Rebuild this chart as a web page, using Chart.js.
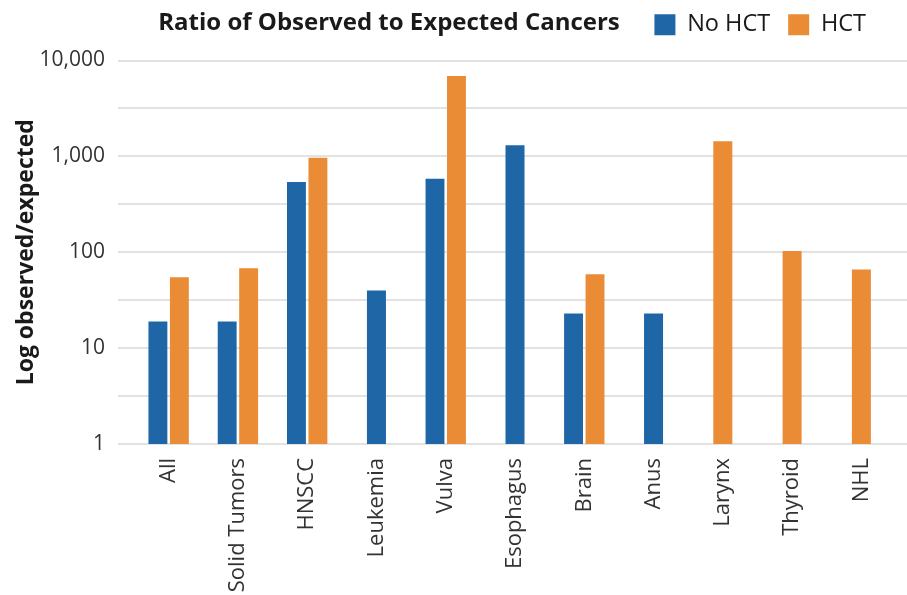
<!DOCTYPE html>
<html>
<head>
<meta charset="utf-8">
<script src="https://cdn.jsdelivr.net/npm/chart.js@4.4.1/dist/chart.umd.min.js"></script>
<style>
    html, body { margin: 0; padding: 0; background: #fff; }
    #wrap { position: relative; width: 907px; height: 595px; }
</style>
</head>
<body>
<div id="wrap"><canvas id="chartRatio"></canvas></div>
<script>
// Values
const categories = ['All', 'Solid Tumors', 'HNSCC', 'Leukemia', 'Vulva', 'Esophagus', 'Brain', 'Anus', 'Larynx', 'Thyroid', 'NHL'];
const noHctValues = [19, 19, 540, 40, 585, 1310, 23, 23, null, null, null];
const hctValues = [55, 68, 970, null, 6900, null, 59, null, 1440, 103, 66];
const majorTicks = [1, 10, 100, 1000, 10000];
const minorTicks = [3.162, 31.62, 316.2, 3162];
const chartTitle = 'Ratio of Observed to Expected Cancers';

Chart.defaults.font.family = '"Open Sans", sans-serif';

// Gridlines run a bit past the plot on both sides, so draw them here
const gridPlugin = {
    id: 'extendedGrid',
    beforeDatasetsDraw(chart) {
        const y = chart.scales.y;
        const ctx = chart.ctx;
        ctx.save();
        ctx.strokeStyle = '#d9d9d9';
        ctx.lineWidth = 1.5;
        majorTicks.concat(minorTicks).forEach(function(v) {
            const py = Math.round(y.getPixelForValue(v));
            ctx.beginPath();
            ctx.moveTo(chart.chartArea.left - 16, py);
            ctx.lineTo(chart.width, py);
            ctx.stroke();
        });
        ctx.restore();
    }
};

// Legend: a bit more room below it, and nudged up / left
const legendSpacing = {
    id: 'legendSpacing',
    beforeInit(chart) {
        const originalFit = chart.legend.fit;
        chart.legend.fit = function() {
            originalFit.bind(chart.legend)();
            this.height += 9;
        };
    },
    afterLayout(chart) {
        chart.legend.top -= 5;
        chart.legend.right -= 12;
    }
};

// Title sits on the same row as the legend
const titlePlugin = {
    id: 'inlineTitle',
    afterDraw(chart) {
        const ctx = chart.ctx;
        ctx.save();
        ctx.font = 'bold 24px "Open Sans"';
        ctx.fillStyle = '#1a1a1a';
        ctx.textAlign = 'center';
        ctx.textBaseline = 'middle';
        ctx.fillText(chartTitle, 389, 23);
        ctx.restore();
    }
};

const ctxRatio = document.getElementById('chartRatio').getContext('2d');
new Chart(ctxRatio, {
    type: 'bar',
    data: {
        labels: categories,
        datasets: [{
            label: 'No HCT',
            data: noHctValues,
            backgroundColor: '#1f66a6'
        }, {
            label: 'HCT',
            data: hctValues,
            backgroundColor: '#ea8b36'
        }]
    },
    options: {
        responsive: true,
        maintainAspectRatio: false,
        animation: false,
        skipNull: true,
        categoryPercentage: 0.62,
        barPercentage: 0.88,
        maxBarThickness: 19,
        layout: { padding: { top: 0, right: 11 } },
        plugins: {
            legend: {
                position: 'top',
                align: 'end',
                labels: {
                    boxWidth: 21,
                    boxHeight: 21,
                    padding: 18,
                    color: '#1a1a1a',
                    font: { size: 23.5 }
                }
            },
            tooltip: { enabled: false }
        },
        scales: {
            x: {
                grid: { display: false, drawTicks: false },
                border: { display: false },
                ticks: {
                    autoSkip: false,
                    minRotation: 90,
                    maxRotation: 90,
                    padding: 14,
                    color: '#333',
                    font: { size: 22 }
                },
                afterFit: function(scale) { scale.height = 151; }
            },
            y: {
                type: 'logarithmic',
                min: 1,
                max: 10000,
                afterBuildTicks: function(scale) {
                    scale.ticks = majorTicks.map(function(v) { return { value: v }; });
                },
                afterFit: function(scale) { scale.width = 134; },
                grid: { display: false, drawTicks: false },
                border: { display: false },
                ticks: {
                    autoSkip: false,
                    padding: 29,
                    color: '#333',
                    font: { size: 21 },
                    callback: function(value) { return Number(value).toLocaleString('en-US'); }
                },
                title: {
                    display: true,
                    text: 'Log observed/expected',
                    color: '#1a1a1a',
                    font: { size: 23, weight: 'bold' },
                    padding: { top: 13, bottom: 0 }
                }
            }
        }
    },
    plugins: [gridPlugin, legendSpacing, titlePlugin]
});
</script>
</body>
</html>
